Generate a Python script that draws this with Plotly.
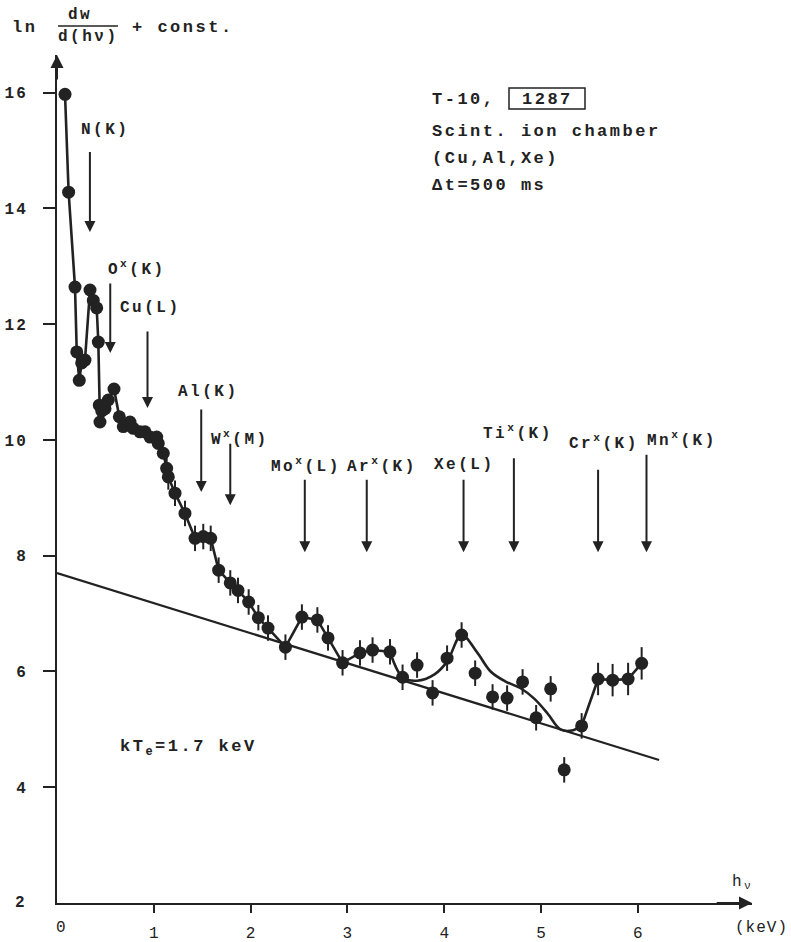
import plotly.graph_objects as go

# Measured spectrum: photon energy hv (keV) and ln(dW/d(hv)) + const.
energy = [0.083, 0.12, 0.186, 0.204, 0.23, 0.255, 0.289, 0.341, 0.375, 0.41, 0.427,
          0.437, 0.444, 0.462, 0.496, 0.53, 0.589, 0.644, 0.685, 0.754, 0.788, 0.857,
          0.909, 0.961, 1.03, 1.046, 1.098, 1.133, 1.15, 1.219, 1.322, 1.426, 1.511,
          1.588, 1.67, 1.79, 1.87, 1.98, 2.08, 2.18, 2.36, 2.53, 2.69, 2.8, 2.95,
          3.13, 3.26, 3.44, 3.57, 3.72, 3.88, 4.03, 4.18, 4.32, 4.5, 4.65, 4.81,
          4.95, 5.1, 5.24, 5.42, 5.59, 5.74, 5.9, 6.04]
ln_dw = [15.97, 14.28, 12.64, 11.52, 11.03, 11.33, 11.38, 12.59, 12.41, 12.28, 11.69,
         10.6, 10.31, 10.5, 10.54, 10.69, 10.88, 10.4, 10.23, 10.31, 10.2, 10.14,
         10.14, 10.05, 10.05, 9.94, 9.77, 9.51, 9.36, 9.08, 8.73, 8.3, 8.33,
         8.3, 7.75, 7.53, 7.4, 7.2, 6.93, 6.75, 6.42, 6.94, 6.89, 6.58, 6.15,
         6.32, 6.37, 6.34, 5.9, 6.11, 5.63, 6.23, 6.63, 5.97, 5.56, 5.54, 5.82,
         5.2, 5.7, 4.3, 5.06, 5.87, 5.85, 5.87, 6.14]
# statistical error (half-length) of each point; too small to see below 1.1 keV
ln_err = [0.0 if e < 1.1 else (0.28 if e > 5.5 else 0.22) for e in energy]

# hand-drawn guide curve: joins the points up to 3.44 keV, smooth line 3.44-5.42 keV
curve_energy = [3.44, 3.57, 3.72, 3.9, 4.03, 4.18, 4.34, 4.48, 4.63, 4.79, 4.93,
                5.07, 5.2, 5.32, 5.42]
curve_ln = [6.34, 5.9, 5.84, 5.95, 6.17, 6.63, 6.33, 6.0, 5.83, 5.71, 5.53,
            5.27, 5.0, 4.98, 5.06]

# continuum fit, kT_e = 1.7 keV
fit_energy = [0.0, 6.22]
fit_ln = [7.7, 4.47]

# characteristic lines marked with arrows
line_labels = ["N(K)", "O<sup>x</sup>(K)", "Cu(L)", "Al(K)", "W<sup>x</sup>(M)",
               "Mo<sup>x</sup>(L)", "Ar<sup>x</sup>(K)", "Xe(L)", "Ti<sup>x</sup>(K)",
               "Cr<sup>x</sup>(K)", "Mn<sup>x</sup>(K)"]
line_energy = [0.34, 0.55, 0.935, 1.49, 1.79, 2.56, 3.2, 4.2, 4.72, 5.59, 6.09]

x_ticks = [1, 2, 3, 4, 5, 6]
y_ticks = [4, 6, 8, 10, 12, 14, 16]

INK = "#222222"
FONT = "Liberation Mono"
SP = "letter-spacing:2.5px"

# arrow geometry for each marked line: (arrow top, arrow bottom, label x, label y)
arrow_geom = [
    (15.0, 13.59, 0.50, 15.35),
    (12.73, 11.5, 0.83, 12.97),
    (11.9, 10.55, 0.97, 12.28),
    (10.55, 9.1, 1.57, 10.83),
    (9.96, 8.87, 1.89, 10.03),
    (9.34, 8.06, 2.57, 9.56),
    (9.34, 8.06, 3.36, 9.56),
    (9.34, 8.06, 4.21, 9.56),
    (9.71, 8.06, 4.76, 10.12),
    (9.51, 8.06, 5.65, 9.96),
    (9.77, 8.06, 6.46, 10.0),
]

W, H = 791, 942
ML, MR, MT, MB = 57, 39, 55, 39


def px_x(px):
    return (px - ML) / (W - ML - MR)


def px_y(py):
    return (H - MB - py) / (H - MT - MB)


def sp(text, spacing=SP):
    return f'<span style="{spacing}">{text}</span>'


def tfont(size=16, weight="bold"):
    return dict(family=FONT, size=size, color=INK, weight=weight)


fig = go.Figure()

# continuum fit
fig.add_trace(go.Scatter(x=fit_energy, y=fit_ln, mode="lines",
                         line=dict(color=INK, width=2.2), hoverinfo="skip"))

# guide curve through the low-energy points
n_lin = energy.index(3.44) + 1
fig.add_trace(go.Scatter(x=energy[:n_lin], y=ln_dw[:n_lin], mode="lines",
                         line=dict(color=INK, width=2.6), hoverinfo="skip"))
fig.add_trace(go.Scatter(x=curve_energy, y=curve_ln, mode="lines",
                         line=dict(color=INK, width=2.6, shape="spline", smoothing=1.0),
                         hoverinfo="skip"))
n_tail = energy.index(5.42)
fig.add_trace(go.Scatter(x=energy[n_tail:], y=ln_dw[n_tail:], mode="lines",
                         line=dict(color=INK, width=2.6), hoverinfo="skip"))

# data points with error bars
fig.add_trace(go.Scatter(
    x=energy, y=ln_dw, mode="markers",
    marker=dict(size=13, color=INK),
    error_y=dict(type="data", array=ln_err, visible=True, color=INK,
                 thickness=2, width=0),
))

annotations = []

# line markers
for lab, e, (top, bot, lx, ly) in zip(line_labels, line_energy, arrow_geom):
    annotations.append(dict(x=e, y=bot, ax=e, ay=top, xref="x", yref="y",
                            axref="x", ayref="y", text="", showarrow=True,
                            arrowhead=2, arrowsize=1.1, arrowwidth=2,
                            arrowcolor=INK))
    annotations.append(dict(x=lx, y=ly, xref="x", yref="y", text=sp(lab),
                            showarrow=False, xanchor="center", yanchor="middle",
                            font=tfont(16)))

# axis arrowheads
annotations.append(dict(x=0, y=16.65, ax=0, ay=16.2, xref="x", yref="y",
                        axref="x", ayref="y", text="", showarrow=True,
                        arrowhead=2, arrowsize=1.3, arrowwidth=2, arrowcolor=INK))
annotations.append(dict(x=7.18, y=2, ax=6.8, ay=2, xref="x", yref="y",
                        axref="x", ayref="y", text="", showarrow=True,
                        arrowhead=2, arrowsize=1.3, arrowwidth=2, arrowcolor=INK))


def txt(px, py, text, size=17, anchor="center", spacing=SP, weight="bold"):
    annotations.append(dict(x=px_x(px), y=px_y(py), xref="paper", yref="paper",
                            text=sp(text, spacing), showarrow=False,
                            xanchor=anchor, yanchor="middle",
                            font=tfont(size, weight)))


# y-axis title: ln dW/d(hv) + const.
txt(10, 27, "ln", anchor="left")
txt(80, 15, "dw", size=16)
txt(88, 37, "d(hν)", size=16)
txt(130, 27, "+ const.", anchor="left")

# run information
txt(430, 99, "T-10,", anchor="left")
txt(547, 99, "1287")
txt(430, 131, "Scint. ion chamber", anchor="left")
txt(430, 159, "(Cu,Al,Xe)", anchor="left")
txt(430, 186, "Δt=500 ms", anchor="left")

# fitted temperature
txt(118, 748, "kT<sub>e</sub>=1.7 keV", anchor="left")

# x-axis labels
txt(742, 882, "h<sub>ν</sub>", size=16, weight="normal")
txt(762, 928, "(keV)", size=16, spacing="letter-spacing:1px", weight="normal")
txt(21, 903, "2", size=16)
txt(62, 928, "0", size=16, weight="normal")

fig.update_layout(
    width=W, height=H,
    margin=dict(l=ML, r=MR, t=MT, b=MB, autoexpand=False),
    plot_bgcolor="white", paper_bgcolor="white",
    showlegend=False,
    annotations=annotations,
    shapes=[
        # fraction bar of the y-axis title
        dict(type="line", xref="paper", yref="paper",
             x0=px_x(58), x1=px_x(118), y0=px_y(26), y1=px_y(26),
             line=dict(color=INK, width=1.5)),
        # frame around the shot number
        dict(type="rect", xref="paper", yref="paper",
             x0=px_x(509), x1=px_x(585), y0=px_y(109), y1=px_y(88),
             line=dict(color=INK, width=1.5)),
    ],
    xaxis=dict(range=[0, 7.18], showline=True, linewidth=2, linecolor=INK,
               ticks="outside", ticklen=8, tickwidth=2, tickcolor=INK,
               tickvals=x_ticks, ticktext=[str(v) for v in x_ticks],
               showgrid=False, zeroline=False, ticklabelstandoff=6,
               automargin=False,
               tickfont=dict(family=FONT, size=16, color=INK)),
    yaxis=dict(range=[2, 16.65], showline=True, linewidth=2, linecolor=INK,
               ticks="outside", ticklen=12, tickwidth=2, tickcolor=INK,
               tickvals=y_ticks, ticktext=[sp(str(v), "letter-spacing:2px") for v in y_ticks],
               showgrid=False, zeroline=False, ticklabelstandoff=12,
               automargin=False,
               tickfont=tfont(16)),
)

fig.write_html("out.html")
